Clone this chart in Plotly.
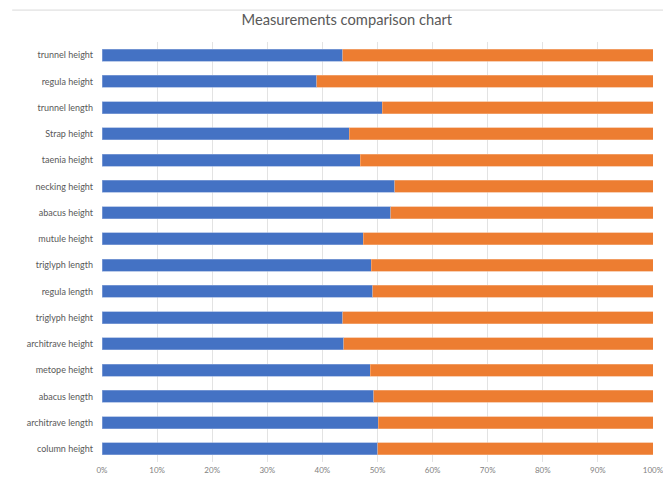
import plotly.graph_objects as go

categories = ["column height", "architrave length", "abacus length", "metope height",
              "architrave height", "triglyph height", "regula length", "triglyph length",
              "mutule height", "abacus height", "necking height", "taenia height",
              "Strap height", "trunnel length", "regula height", "trunnel height"]
series_a = [50.0, 50.1, 49.3, 48.7, 43.9, 43.7, 49.1, 48.9,
            47.4, 52.4, 53.1, 46.9, 44.9, 50.9, 39.0, 43.7]
series_b = [50.0, 49.9, 50.7, 51.3, 56.1, 56.3, 50.9, 51.1,
            52.6, 47.6, 46.9, 53.1, 55.1, 49.1, 61.0, 56.3]
tick_vals = [0, 10, 20, 30, 40, 50, 60, 70, 80, 90, 100]
tick_text = ["0%", "10%", "20%", "30%", "40%", "50%", "60%", "70%", "80%", "90%", "100%"]

fig = go.Figure()
fig.add_trace(go.Bar(y=categories, x=series_a, orientation="h", name="A",
                     marker=dict(color="#4472C4", line=dict(color="#8FAADC", width=0.6)),
                     width=0.45))
fig.add_trace(go.Bar(y=categories, x=series_b, orientation="h", name="B",
                     marker=dict(color="#ED7D31", line=dict(color="#F4B183", width=0.6)),
                     width=0.45))

fig.update_layout(
    width=663, height=471,
    barmode="stack",
    showlegend=False,
    paper_bgcolor="white", plot_bgcolor="white",
    margin=dict(l=94, r=18, t=34, b=17),
    font=dict(family="Lato, Open Sans, sans-serif", color="#595959"),
    title=dict(text="Measurements comparison chart", x=0.511, xanchor="center",
               y=0.9745, yanchor="middle",
               font=dict(size=14.7, color="#595959", family="Lato, Open Sans, sans-serif")),
    xaxis=dict(range=[0, 100], tickvals=tick_vals, ticktext=tick_text, automargin=False,
               showgrid=True, gridcolor="#E3E3E3", gridwidth=1, zeroline=False,
               showline=False, ticks="", tickfont=dict(size=8, color="#7F7F7F"),
               ticklabelstandoff=2),
    yaxis=dict(categoryorder="array", categoryarray=categories, automargin=False,
               showgrid=False, zeroline=False, ticks="", ticklen=0,
               tickfont=dict(size=9, color="#595959"), ticklabelstandoff=8,
               showline=False, range=[-0.5, 15.5]),
    shapes=[dict(type="line", xref="paper", yref="paper", x0=-0.163, x1=1.033,
                 y0=1.076, y1=1.076, line=dict(color="#D9D9D9", width=1))],
)

fig.write_html("out.html")
